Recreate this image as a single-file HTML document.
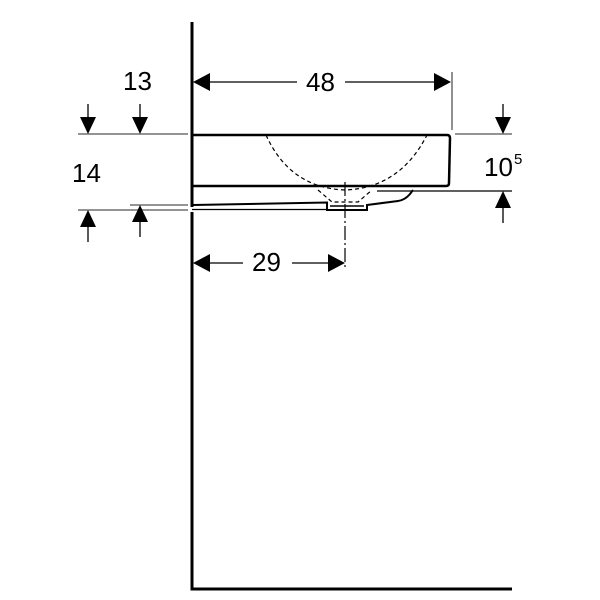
<!DOCTYPE html>
<html><head><meta charset="utf-8"><style>html,body{margin:0;padding:0;background:#fff}svg{display:block}text{font-family:"Liberation Sans",sans-serif;font-size:26px}</style></head>
<body>
<svg width="600" height="600" viewBox="0 0 600 600" xmlns="http://www.w3.org/2000/svg">
<g stroke="#000" fill="none">
<path d="M192 22 V207 M192 212 V589 H512" stroke-width="3"/>
<path d="M193 135 H447 Q450 135 450 138 L449 183 Q449 186 446 186 H193" stroke-width="2.5"/>
<path d="M193 205 L327 202.5 V210 H367 V205 L398 201 Q405 200 410 194 L413 190" stroke-width="2"/>
<line x1="377" y1="191" x2="512" y2="191" stroke-width="1.3"/>
<line x1="192" y1="209.5" x2="327" y2="209.5" stroke-width="1.3"/>
<line x1="330" y1="206" x2="364" y2="206" stroke-width="1.5"/>
<path d="M266 135 Q290 188 345 190 Q400 188 427 135" stroke-width="1.2" stroke-dasharray="4,3"/>
<path d="M318 190 L332 202 H358 L372 190" stroke-width="1.2" stroke-dasharray="4,3"/>
<path d="M345 182 V270" stroke-width="1.2" stroke-dasharray="14,3,2,3"/>
<g stroke="#555" stroke-width="1.3">
<line x1="78" y1="134" x2="188" y2="134"/>
<line x1="130" y1="205" x2="188" y2="205"/>
<line x1="78" y1="210" x2="188" y2="210"/>
<line x1="455" y1="134" x2="512" y2="134"/>
<line x1="452" y1="72" x2="452" y2="130"/>
</g>
<g stroke-width="1.3">
<line x1="205" y1="82" x2="297" y2="82"/><line x1="345" y1="82" x2="440" y2="82"/>
<line x1="205" y1="263" x2="243" y2="263"/><line x1="292" y1="263" x2="333" y2="263"/>
<line x1="88" y1="104" x2="88" y2="122"/><line x1="140" y1="104" x2="140" y2="122"/>
<line x1="88" y1="222" x2="88" y2="242"/><line x1="140" y1="222" x2="140" y2="237"/>
<line x1="503" y1="104" x2="503" y2="122"/><line x1="503" y1="203" x2="503" y2="223"/>
</g>
</g>
<g fill="#000">
<polygon points="193,82 210,73 210,91"/><polygon points="451,82 434,73 434,91"/>
<polygon points="193,263 210,254 210,272"/><polygon points="345,263 328,254 328,272"/>
<polygon points="88,134 80,117 96,117"/><polygon points="140,134 132,117 148,117"/>
<polygon points="88,210 80,227 96,227"/><polygon points="140,205 132,222 148,222"/>
<polygon points="503,134 495,117 511,117"/><polygon points="503,191 495,208 511,208"/>
<text x="123" y="90">13</text>
<text x="306" y="91">48</text>
<text x="72" y="182">14</text>
<text x="252" y="271">29</text>
<text x="484" y="176">10</text><text x="514" y="164" style="font-size:15px">5</text>
</g>
</svg>
</body></html>
